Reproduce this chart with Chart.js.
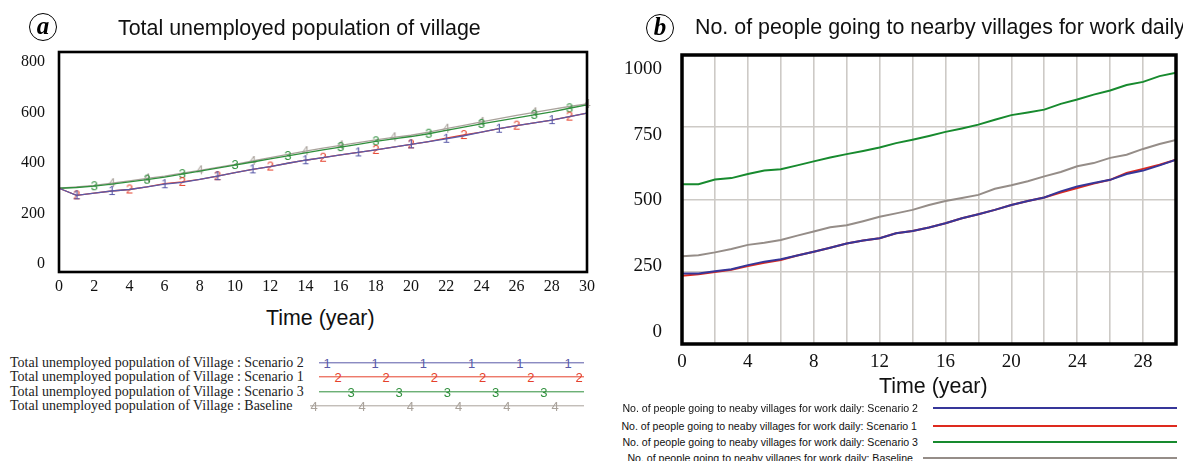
<!DOCTYPE html>
<html>
<head>
<meta charset="utf-8">
<script src="https://cdn.jsdelivr.net/npm/chart.js@4/dist/chart.umd.min.js"></script>
<style>
  html, body { margin: 0; padding: 0; background: #fff; }
  body { width: 1183px; height: 461px; position: relative; overflow: hidden; font-family: "Liberation Sans", Arial, sans-serif; }
  canvas { position: absolute; }
  .t { position: absolute; white-space: nowrap; color: #111; transform: translateY(-50%); }
  .title { font-size: 21.4px; }
  .axis-title { font-size: 21.4px; }
  .badge { position: absolute; width: 26px; height: 26px; border: 1.6px solid #000; border-radius: 50%;
           transform: translate(-50%, -50%); font: italic bold 25px "Liberation Serif", serif;
           text-align: center; line-height: 23px; color: #000; }
  .leg-a { font: 14px "Liberation Serif", "Times New Roman", serif; color: #222; }
  .leg-b { font: 10.6px "Liberation Sans", Arial, sans-serif; color: #111; }
  .ln { position: absolute; transform: translateY(-50%); }
  .mk { position: absolute; transform: translate(-50%, -50%); font: 13px "Liberation Sans", Arial, sans-serif; line-height: 13px; }
</style>
</head>
<body>
<canvas id="chartA" width="600" height="305" style="left:0;top:0"></canvas>
<canvas id="chartB" width="583" height="380" style="left:600px;top:0"></canvas>

<div class="badge" style="left:43px;top:27px">a</div>
<div class="t title" style="left:118px;top:28px">Total unemployed population of village</div>
<div class="t axis-title" style="left:266px;top:318px">Time (year)</div>

<div class="badge" style="left:660px;top:28px">b</div>
<div class="t title" style="left:695px;top:27px">No. of people going to nearby villages for work daily</div>
<div class="t axis-title" style="left:879px;top:386px">Time (year)</div>

<div id="legendA"></div>
<div id="legendB"></div>

<script>
// Simulation years (x axis of both panels)
const years = [0,1,2,3,4,5,6,7,8,9,10,11,12,13,14,15,16,17,18,19,20,21,22,23,24,25,26,27,28,29,30];

// Panel (a): total unemployed population of village
const yTicksA = [0, 200, 400, 600, 800];
const unemployedS2   = [300,272,281,289,295,305,316,323,335,348,362,375,386,399,411,421,432,442,452,463,474,485,496,508,522,536,548,559,570,584,598];
const unemployedS1   = [300,272,281,289,295,305,318,325,335,348,362,375,386,399,411,421,432,442,452,463,474,485,499,511,522,536,548,559,570,584,598];
const unemployedS3   = [300,303,308,316,325,334,344,356,368,380,392,404,416,428,440,452,463,474,486,496,505,516,529,542,555,567,579,591,603,617,630];
const unemployedBase = [300,305,311,320,329,339,348,360,371,383,395,408,421,434,447,459,470,481,492,502,510,522,536,549,563,576,589,601,613,624,634];

// Years at which each run carries its number marker
const markS2   = [1,3,6,9,11,14,17,20,22,25,28];
const markS1   = [1,4,7,9,12,15,18,20,23,26,29];
const markS3   = [2,5,7,10,13,16,18,21,24,27,29];
const markBase = [3,5,8,11,14,16,19,22,24,27,30];

// Panel (b): people going to nearby villages for work daily
const yTicksB = [0, 250, 500, 750, 1000];
const commuteS2   = [244,244,252,259,273,285,293,306,319,333,348,358,366,383,391,403,418,435,449,464,481,495,507,528,545,557,568,588,600,618,638];
const commuteS1   = [236,241,249,257,270,281,291,306,319,333,348,358,366,383,391,403,418,435,449,464,481,495,507,524,540,555,568,592,606,620,638];
const commuteS3   = [553,553,569,574,588,600,605,618,632,645,657,668,680,695,707,720,734,746,759,776,792,801,811,831,846,863,877,896,907,927,939];
const commuteBase = [304,307,317,329,343,350,360,375,389,404,411,425,440,452,464,481,495,505,516,537,549,563,580,595,615,626,644,655,675,692,706];

const legendTextA = [
  'Total unemployed population of Village : Scenario 2',
  'Total unemployed population of Village : Scenario 1',
  'Total unemployed population of Village : Scenario 3',
  'Total unemployed population of Village : Baseline'
];
const legendTextB = [
  'No. of people going to neaby villages for work daily: Scenario 2',
  'No. of people going to neaby villages for work daily: Scenario 1',
  'No. of people going to neaby villages for work daily: Scenario 3',
  'No. of people going to neaby villages for work daily: Baseline'
];

const colA = { s2: '#5a5aa8', s1: '#e5412c', s3: '#2f8f3c', base: '#a9a29b' };
const colB = { s2: '#363699', s1: '#de2a1e', s3: '#178a2e', base: '#958d88' };

// Thick black box around the plotting area
const framePlugin = {
  id: 'frame',
  afterDraw(chart, args, opts) {
    const { ctx, chartArea: a } = chart;
    ctx.save();
    ctx.strokeStyle = '#000';
    ctx.lineWidth = opts.width || 2;
    ctx.strokeRect(a.left, a.top, a.right - a.left, a.bottom - a.top);
    ctx.restore();
  }
};

// Small canvas holding a run number, used as point style
function digitMarker(ch, color) {
  const c = document.createElement('canvas');
  c.width = 10; c.height = 14;
  const g = c.getContext('2d');
  g.font = '13px "Liberation Sans", Arial, sans-serif';
  g.fillStyle = color;
  g.textAlign = 'center';
  g.textBaseline = 'middle';
  g.fillText(ch, 5, 7.5);
  return c;
}

function markedLine(label, data, color, digit, marks) {
  return {
    label, data,
    borderColor: color, borderWidth: 1.3, tension: 0, clip: false,
    pointStyle: digitMarker(digit, color),
    pointRadius: ctx => marks.includes(years[ctx.dataIndex]) ? 4 : 0
  };
}

const serif = size => ({ family: '"Liberation Serif", "Times New Roman", serif', size });

new Chart(document.getElementById('chartA'), {
  type: 'line',
  data: {
    labels: years,
    datasets: [
      markedLine(legendTextA[0], unemployedS2, colA.s2, '1', markS2),
      markedLine(legendTextA[1], unemployedS1, colA.s1, '2', markS1),
      markedLine(legendTextA[2], unemployedS3, colA.s3, '3', markS3),
      markedLine(legendTextA[3], unemployedBase, colA.base, '4', markBase)
    ]
  },
  options: {
    responsive: false, animation: false, events: [],
    layout: { padding: { top: 52, right: 11, left: 0, bottom: 0 } },
    plugins: { legend: { display: false }, tooltip: { enabled: false }, frame: { width: 2.6 } },
    scales: {
      x: {
        type: 'linear', min: 0, max: 30,
        ticks: { stepSize: 2, padding: 5, color: '#111', font: serif(16), maxRotation: 0, autoSkip: false },
        grid: { display: false, drawTicks: false }, border: { display: false },
        afterFit: s => { s.height = 33; }
      },
      y: {
        min: -32, max: 840,
        afterBuildTicks: axis => { axis.ticks = yTicksA.map(v => ({ value: v })); },
        ticks: { padding: 14, color: '#111', font: serif(16), callback: v => String(v) },
        grid: { display: false, drawTicks: false }, border: { display: false },
        afterFit: s => { s.width = 59; }
      }
    }
  },
  plugins: [framePlugin]
});

function plainLine(label, data, color) {
  return { label, data, borderColor: color, borderWidth: 2, pointRadius: 0, tension: 0 };
}

new Chart(document.getElementById('chartB'), {
  type: 'line',
  data: {
    labels: years,
    datasets: [
      plainLine(legendTextB[0], commuteS2, colB.s2),
      plainLine(legendTextB[1], commuteS1, colB.s1),
      plainLine(legendTextB[2], commuteS3, colB.s3),
      plainLine(legendTextB[3], commuteBase, colB.base)
    ]
  },
  options: {
    responsive: false, animation: false, events: [],
    layout: { padding: { top: 55, right: 2, left: 0, bottom: 0 } },
    plugins: { legend: { display: false }, tooltip: { enabled: false }, frame: { width: 3.5 } },
    scales: {
      x: {
        type: 'linear', min: 0, max: 30,
        ticks: { stepSize: 2, padding: 7, color: '#111', font: serif(19), maxRotation: 0, autoSkip: false,
                 callback: v => (v % 4 === 0 ? String(v) : '') },
        grid: { color: '#cdcac6', lineWidth: 1.6, drawTicks: false }, border: { display: false },
        afterFit: s => { s.height = 36; }
      },
      y: {
        position: 'left', min: 0, max: 1000,
        ticks: { display: false, stepSize: 250 },
        grid: { color: '#cdcac6', lineWidth: 1.6, drawTicks: false }, border: { display: false },
        afterFit: s => { s.width = 0; }
      },
      yLabels: {
        position: 'left', min: -46, max: 1053,
        afterBuildTicks: axis => { axis.ticks = yTicksB.map(v => ({ value: v })); },
        ticks: { padding: 20, color: '#111', font: serif(19), callback: v => String(v) },
        grid: { display: false, drawTicks: false }, border: { display: false },
        afterFit: s => { s.width = 82; }
      }
    }
  },
  plugins: [framePlugin]
});

// Legend of panel (a): run name, then its line with number markers
(function () {
  const host = document.getElementById('legendA');
  const rows = [
    { y: 363, x0: 319, color: colA.s2, digit: '1', first: 327, n: 6 },
    { y: 377, x0: 319, color: colA.s1, digit: '2', first: 338, n: 6 },
    { y: 392, x0: 319, color: colA.s3, digit: '3', first: 351, n: 5 },
    { y: 406, x0: 310, color: colA.base, digit: '4', first: 314, n: 6 }
  ];
  rows.forEach((r, i) => {
    const t = document.createElement('div');
    t.className = 't leg-a';
    t.style.left = '10px'; t.style.top = r.y + 'px';
    t.textContent = legendTextA[i];
    host.appendChild(t);
    const l = document.createElement('div');
    l.className = 'ln';
    l.style.cssText += `left:${r.x0}px;top:${r.y}px;width:${584 - r.x0}px;height:1.4px;background:${r.color}`;
    host.appendChild(l);
    for (let k = 0; k < r.n; k++) {
      const m = document.createElement('div');
      m.className = 'mk';
      m.style.left = (r.first + 48.2 * k) + 'px'; m.style.top = r.y + 'px';
      m.style.color = r.color;
      m.textContent = r.digit;
      host.appendChild(m);
    }
  });
})();

// Legend of panel (b)
(function () {
  const host = document.getElementById('legendB');
  const rows = [
    { y: 408, right: 918, x0: 933, color: colB.s2 },
    { y: 426, right: 917, x0: 933, color: colB.s1 },
    { y: 442, right: 918, x0: 933, color: colB.s3 },
    { y: 458, right: 913, x0: 923, color: colB.base }
  ];
  rows.forEach((r, i) => {
    const t = document.createElement('div');
    t.className = 't leg-b';
    t.style.right = (1183 - r.right) + 'px'; t.style.top = r.y + 'px';
    t.textContent = legendTextB[i];
    host.appendChild(t);
    const l = document.createElement('div');
    l.className = 'ln';
    l.style.cssText += `left:${r.x0}px;top:${r.y}px;width:${1177 - r.x0}px;height:2px;background:${r.color}`;
    host.appendChild(l);
  });
})();
</script>
</body>
</html>
